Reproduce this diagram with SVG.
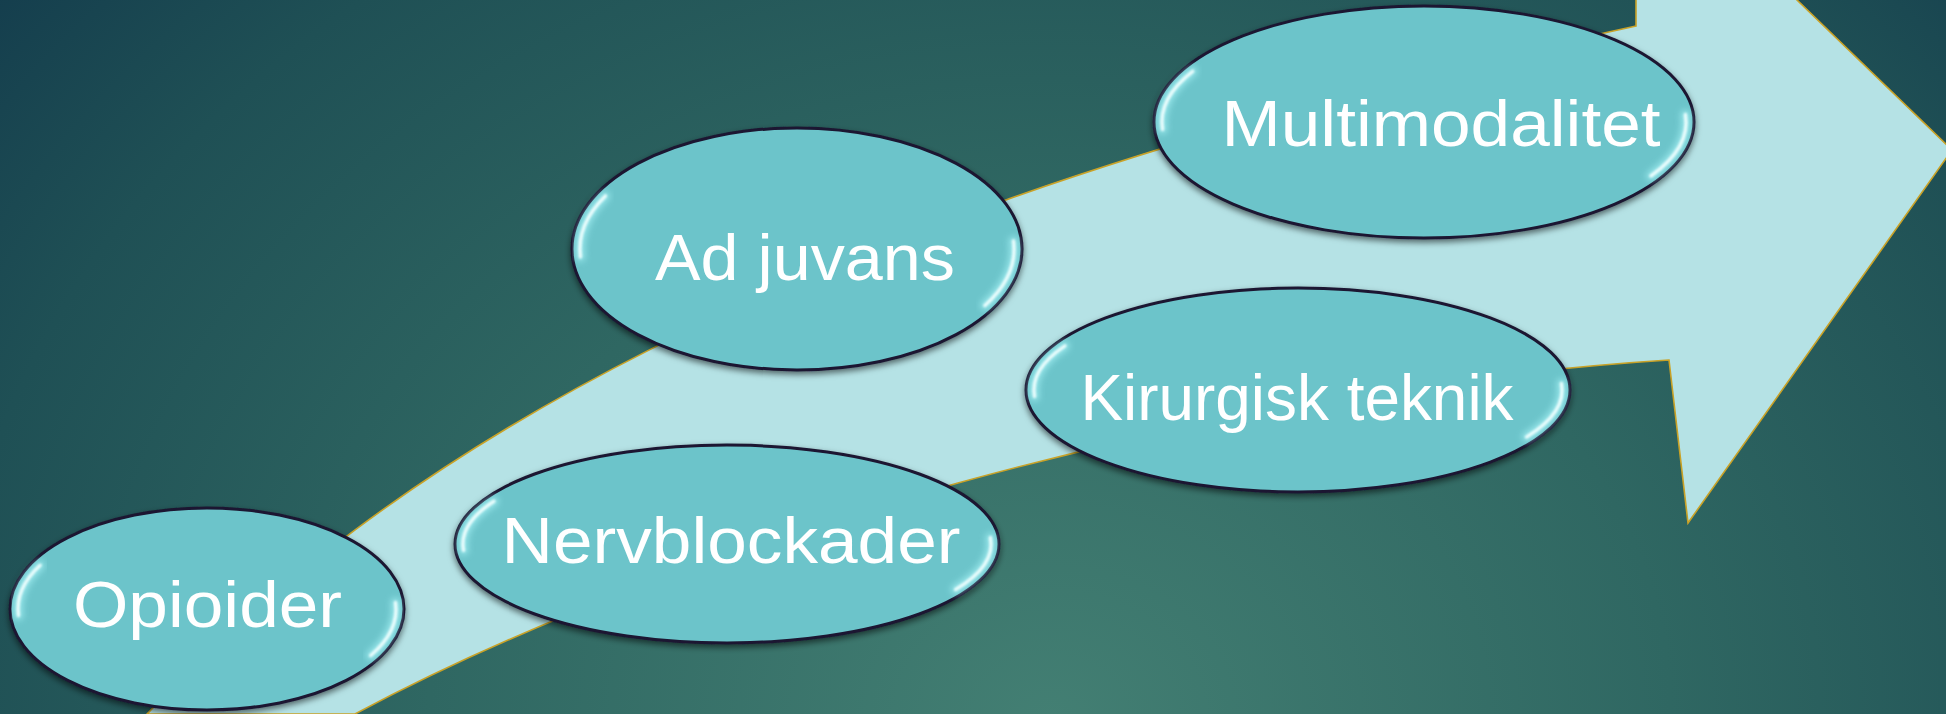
<svg xmlns="http://www.w3.org/2000/svg" width="1946" height="714" viewBox="0 0 1946 714">
  <defs>
    <radialGradient id="bg" gradientUnits="userSpaceOnUse" cx="1050" cy="720" r="1150" gradientTransform="translate(1050 720) scale(1.2 1) translate(-1050 -720)">
      <stop offset="0" stop-color="#437f73"/>
      <stop offset="0.45" stop-color="#2f6762"/>
      <stop offset="0.8" stop-color="#1f5055"/>
      <stop offset="1" stop-color="#143d4d"/>
    </radialGradient>
    <filter id="shadow" x="-10%" y="-10%" width="120%" height="130%">
      <feDropShadow dx="0" dy="3" stdDeviation="3" flood-color="#000" flood-opacity="0.55"/>
    </filter>
    <filter id="soft" x="-20%" y="-20%" width="140%" height="140%">
      <feGaussianBlur stdDeviation="1.2"/>
    </filter>
    <filter id="glow" x="-30%" y="-30%" width="160%" height="160%">
      <feGaussianBlur stdDeviation="3"/>
    </filter>
  </defs>
  <style>
    .bubble { fill: #6cc4ca; stroke: #1b1730; stroke-width: 3; filter: url(#shadow); }
    .gloss-halo { fill: none; stroke: #a8f4f8; stroke-width: 10; stroke-linecap: round; opacity: 0.65; filter: url(#glow); }
    .gloss { fill: none; stroke: #effefe; stroke-width: 3.5; stroke-linecap: round; opacity: 0.95; filter: url(#soft); }
    .label { fill: #ffffff; font-family: "Liberation Sans", Arial, sans-serif; font-size: 64px; text-anchor: middle; }
  </style>

  <rect x="0" y="0" width="1946" height="714" fill="url(#bg)"/>

  <!-- big curved arrow running from lower left to upper right -->
  <g id="connectors">
    <path d="M147,714 C380,470 760,215 1636,26 L1636,-30 L1766,-30 L1952,150 L1688,523 L1669,360 C1200,390 680,540 355,714 Z"
          fill="#b5e2e5" stroke="#c9a227" stroke-width="1.6" stroke-linejoin="miter"/>
  </g>

  <g id="node-opioider" transform="translate(207,609)">
    <ellipse class="bubble" rx="197" ry="101"/>
    <path class="gloss-halo" d="M-166.9,-43.7 A189 93 0 0 0 -188.5,6.5"/>
    <path class="gloss" d="M-166.9,-43.7 A189 93 0 0 0 -188.5,6.5"/>
    <path class="gloss-halo" d="M188.5,-6.5 A189 93 0 0 1 163.7,46.5"/>
    <path class="gloss" d="M188.5,-6.5 A189 93 0 0 1 163.7,46.5"/>
    <text class="label" x="0.5" y="18" textLength="269" lengthAdjust="spacingAndGlyphs">Opioider</text>
  </g>

  <g id="node-nervblockader" transform="translate(727,544)">
    <ellipse class="bubble" rx="272" ry="99"/>
    <path class="gloss-halo" d="M-233.1,-42.7 A264 91 0 0 0 -263.4,6.4"/>
    <path class="gloss" d="M-233.1,-42.7 A264 91 0 0 0 -263.4,6.4"/>
    <path class="gloss-halo" d="M263.4,-6.4 A264 91 0 0 1 228.6,45.5"/>
    <path class="gloss" d="M263.4,-6.4 A264 91 0 0 1 228.6,45.5"/>
    <text class="label" x="4" y="19" textLength="459" lengthAdjust="spacingAndGlyphs">Nervblockader</text>
  </g>

  <g id="node-adjuvans" transform="translate(797,249)">
    <ellipse class="bubble" rx="225" ry="121"/>
    <path class="gloss-halo" d="M-191.6,-53.1 A217 113 0 0 0 -216.5,7.9"/>
    <path class="gloss" d="M-191.6,-53.1 A217 113 0 0 0 -216.5,7.9"/>
    <path class="gloss-halo" d="M216.5,-7.9 A217 113 0 0 1 187.9,56.5"/>
    <path class="gloss" d="M216.5,-7.9 A217 113 0 0 1 187.9,56.5"/>
    <text class="label" x="8" y="31" textLength="300" lengthAdjust="spacingAndGlyphs">Ad juvans</text>
  </g>

  <g id="node-kirurgisk" transform="translate(1298,390)">
    <ellipse class="bubble" rx="272" ry="102"/>
    <path class="gloss-halo" d="M-233.1,-44.1 A264 94 0 0 0 -263.4,6.6"/>
    <path class="gloss" d="M-233.1,-44.1 A264 94 0 0 0 -263.4,6.6"/>
    <path class="gloss-halo" d="M263.4,-6.6 A264 94 0 0 1 228.6,47"/>
    <path class="gloss" d="M263.4,-6.6 A264 94 0 0 1 228.6,47"/>
    <text class="label" x="-1" y="30" textLength="433" lengthAdjust="spacingAndGlyphs">Kirurgisk teknik</text>
  </g>

  <g id="node-multimodalitet" transform="translate(1424,122)">
    <ellipse class="bubble" rx="270" ry="116"/>
    <path class="gloss-halo" d="M-231.3,-50.7 A262 108 0 0 0 -261.4,7.5"/>
    <path class="gloss" d="M-231.3,-50.7 A262 108 0 0 0 -261.4,7.5"/>
    <path class="gloss-halo" d="M261.4,-7.5 A262 108 0 0 1 226.9,54"/>
    <path class="gloss" d="M261.4,-7.5 A262 108 0 0 1 226.9,54"/>
    <text class="label" x="17" y="24" textLength="439" lengthAdjust="spacingAndGlyphs">Multimodalitet</text>
  </g>
</svg>
